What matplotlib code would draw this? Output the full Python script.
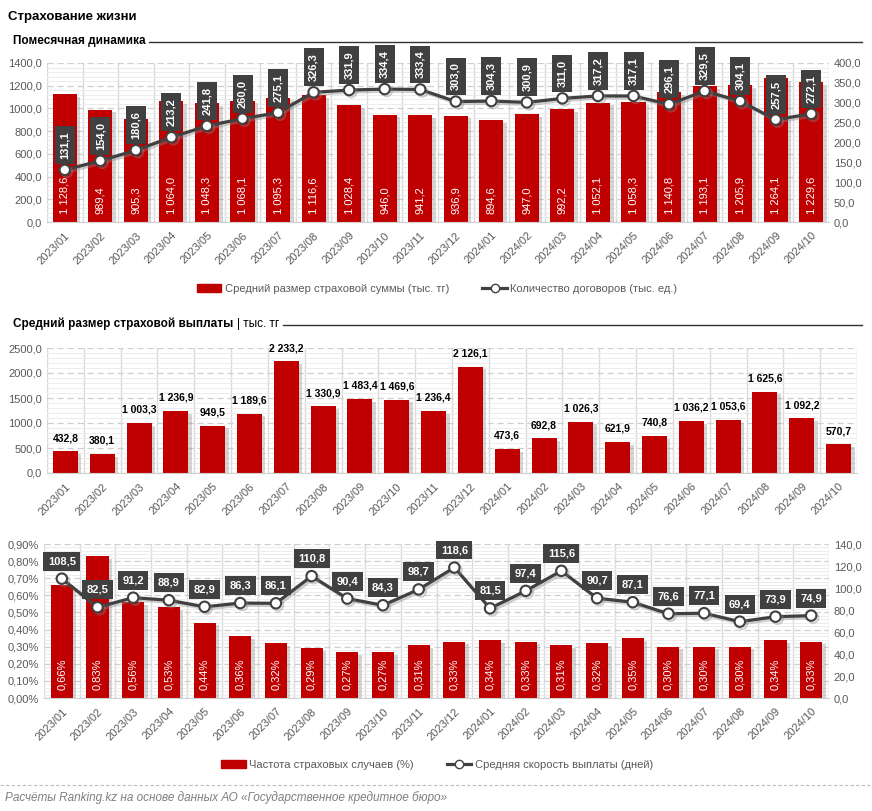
import numpy as np
import matplotlib
matplotlib.use("Agg")
import matplotlib.pyplot as plt
import matplotlib.patheffects as pe
from matplotlib.ticker import MultipleLocator, FuncFormatter
from matplotlib.lines import Line2D
from matplotlib.patches import Patch

months = ["2023/01", "2023/02", "2023/03", "2023/04", "2023/05", "2023/06",
          "2023/07", "2023/08", "2023/09", "2023/10", "2023/11", "2023/12",
          "2024/01", "2024/02", "2024/03", "2024/04", "2024/05", "2024/06",
          "2024/07", "2024/08", "2024/09", "2024/10"]

# average insured sum (thous. tenge) and number of contracts (thous.)
avg_sum = [1128.6, 989.4, 905.3, 1064.0, 1048.3, 1068.1, 1095.3, 1116.6, 1028.4, 946.0, 941.2,
           936.9, 894.6, 947.0, 992.2, 1052.1, 1058.3, 1140.8, 1193.1, 1205.9, 1264.1, 1229.6]
contracts = [131.1, 154.0, 180.6, 213.2, 241.8, 260.0, 275.1, 326.3, 331.9, 334.4, 333.4,
             303.0, 304.3, 300.9, 311.0, 317.2, 317.1, 296.1, 329.5, 304.1, 257.5, 272.1]

# average payout (thous. tenge)
avg_payout = [432.8, 380.1, 1003.3, 1236.9, 949.5, 1189.6, 2233.2, 1330.9, 1483.4, 1469.6, 1236.4,
              2126.1, 473.6, 692.8, 1026.3, 621.9, 740.8, 1036.2, 1053.6, 1625.6, 1092.2, 570.7]

# claim frequency (%) and payout speed (days)
claim_freq = [0.66, 0.83, 0.56, 0.53, 0.44, 0.36, 0.32, 0.29, 0.27, 0.27, 0.31,
              0.33, 0.34, 0.33, 0.31, 0.32, 0.35, 0.30, 0.30, 0.30, 0.34, 0.33]
pay_speed = [108.5, 82.5, 91.2, 88.9, 82.9, 86.3, 86.1, 110.8, 90.4, 84.3, 98.7,
             118.6, 81.5, 97.4, 115.6, 90.7, 87.1, 76.6, 77.1, 69.4, 73.9, 74.9]

RED = "#C00000"
DARK = "#404040"
GRAY = "#595959"

plt.rcParams["font.family"] = ["Liberation Sans", "DejaVu Sans"]


def ru(v, d=1):
    return f"{v:,.{d}f}".replace(",", " ").replace(".", ",")


def comma_fmt(d=1, suffix=""):
    return FuncFormatter(lambda v, p: f"{v:.{d}f}".replace(".", ",") + suffix)


shadow = [pe.SimplePatchShadow(offset=(2.5, -2), shadow_rgbFace="#888888", alpha=0.35), pe.Normal()]
line_shadow = [pe.SimpleLineShadow(offset=(1.5, -1.5), shadow_color="#888888", alpha=0.4), pe.Normal()]

x = np.arange(len(months))


def style(ax, ymax, step, fmt):
    ax.set_xlim(-0.5, len(months) - 0.5)
    ax.set_ylim(0, ymax)
    ax.yaxis.set_major_locator(MultipleLocator(step))
    ax.yaxis.set_minor_locator(MultipleLocator(step / 5))
    ax.yaxis.set_major_formatter(fmt)
    ax.set_xticks(x)
    ax.set_xticks(np.arange(len(months) + 1) - 0.5, minor=True)
    ax.set_xticklabels(months, rotation=45, ha="right", rotation_mode="anchor")
    ax.tick_params(axis="both", which="both", length=0, colors=GRAY, labelsize=8)
    ax.tick_params(axis="x", pad=6)
    ax.grid(axis="y", which="minor", color="#ececec", lw=0.7)
    ax.grid(axis="y", which="major", color="#cfcfcf", ls=(0, (5, 3)), lw=0.9)
    ax.grid(axis="x", which="minor", color="#d9d9d9", lw=1.0)
    ax.set_axisbelow(True)
    for s in ax.spines.values():
        s.set_visible(False)
    ax.spines["bottom"].set_visible(True)
    ax.spines["bottom"].set_color("#d0d0d0")


fig = plt.figure(figsize=(8.72, 8.11), dpi=100)
renderer = fig.canvas.get_renderer()

# titles
fig.text(8 / 872, 1 - 17 / 811, "Страхование жизни", fontsize=9.5, fontweight="bold", va="center")
t1 = fig.text(13 / 872, 1 - 41 / 811, "Помесячная динамика", fontsize=8.5, fontweight="bold",
              va="center")
x_end = t1.get_window_extent(renderer).x1 / fig.bbox.width
fig.add_artist(Line2D([x_end + 3 / 872, 862 / 872], [1 - 42 / 811] * 2, color="#333333", lw=1))

t2 = fig.text(13 / 872, 1 - 324 / 811, "Средний размер страховой выплаты", fontsize=8.5,
              fontweight="bold", va="center")
x_end = t2.get_window_extent(renderer).x1 / fig.bbox.width
t3 = fig.text(x_end + 4 / 872, 1 - 324 / 811, "| тыс. тг", fontsize=8.5, va="center")
x_end = t3.get_window_extent(renderer).x1 / fig.bbox.width
fig.add_artist(Line2D([x_end + 3 / 872, 862 / 872], [1 - 325 / 811] * 2, color="#333333", lw=1))

# ---- top chart
ax1 = fig.add_axes([47 / 872, 1 - 222 / 811, 782 / 872, 159 / 811])
style(ax1, 1400, 200, comma_fmt())
bars = ax1.bar(x, avg_sum, width=0.68, color=RED, zorder=2)
for b in bars:
    b.set_path_effects(shadow)
for xi, v in zip(x, avg_sum):
    ax1.annotate(ru(v), (xi, 0), xytext=(0, 6), textcoords="offset points", rotation=90,
                 ha="center", va="bottom", color="white", fontsize=8)
ax1b = ax1.twinx()
ax1b.set_ylim(0, 400)
ax1b.yaxis.set_major_locator(MultipleLocator(50))
ax1b.yaxis.set_major_formatter(comma_fmt())
ax1b.tick_params(length=0, colors=GRAY, labelsize=8)
for s in ax1b.spines.values():
    s.set_visible(False)
ax1b.plot(x, contracts, color=DARK, lw=2.3, marker="o", ms=7.5, mfc="white", mec=DARK, mew=1.5,
          path_effects=line_shadow)
for xi, v in zip(x, contracts):
    ax1b.annotate(ru(v), (xi, v), xytext=(0, 8), textcoords="offset points", rotation=90,
                  ha="center", va="bottom", color="white", fontsize=8, fontweight="bold",
                  bbox=dict(boxstyle="square,pad=0.45", fc=DARK, ec="none"))
fig.legend(handles=[Patch(color=RED, label="Средний размер страховой суммы (тыс. тг)"),
                    Line2D([], [], color=DARK, lw=2.3, marker="o", ms=6, mfc="white", mec=DARK,
                           label="Количество договоров (тыс. ед.)")],
           loc="center", bbox_to_anchor=(437 / 872, 1 - 289 / 811), ncol=2, frameon=False,
           fontsize=8, columnspacing=3, handlelength=2.2, handletextpad=0.3, labelcolor=GRAY)

# ---- middle chart
ax2 = fig.add_axes([47 / 872, 1 - 473 / 811, 810 / 872, 125 / 811])
style(ax2, 2500, 500, comma_fmt())
bars = ax2.bar(x, avg_payout, width=0.68, color=RED, zorder=2)
for b in bars:
    b.set_path_effects(shadow)
for xi, v in zip(x, avg_payout):
    ax2.annotate(ru(v), (xi, v), xytext=(0, 6), textcoords="offset points",
                 ha="center", va="bottom", color="black", fontsize=7.5, fontweight="bold")

# ---- bottom chart
ax3 = fig.add_axes([44 / 872, 1 - 698 / 811, 785 / 872, 154 / 811])
style(ax3, 0.9, 0.1, comma_fmt(2, "%"))
bars = ax3.bar(x, claim_freq, width=0.62, color=RED, zorder=2)
for b in bars:
    b.set_path_effects(shadow)
for xi, v in zip(x, claim_freq):
    ax3.annotate(ru(v, 2) + "%", (xi, 0), xytext=(0, 6), textcoords="offset points", rotation=90,
                 ha="center", va="bottom", color="white", fontsize=8)
ax3b = ax3.twinx()
ax3b.set_ylim(0, 140)
ax3b.yaxis.set_major_locator(MultipleLocator(20))
ax3b.yaxis.set_major_formatter(comma_fmt())
ax3b.tick_params(length=0, colors=GRAY, labelsize=8)
for s in ax3b.spines.values():
    s.set_visible(False)
ax3b.plot(x, pay_speed, color=DARK, lw=2.3, marker="o", ms=7.5, mfc="white", mec=DARK, mew=1.5,
          path_effects=line_shadow)
for xi, v in zip(x, pay_speed):
    ax3b.annotate(ru(v), (xi, v), xytext=(0, 9), textcoords="offset points",
                  ha="center", va="bottom", color="white", fontsize=8, fontweight="bold",
                  bbox=dict(boxstyle="square,pad=0.4", fc=DARK, ec="none"))
fig.legend(handles=[Patch(color=RED, label="Частота страховых случаев (%)"),
                    Line2D([], [], color=DARK, lw=2.3, marker="o", ms=6, mfc="white", mec=DARK,
                           label="Средняя скорость выплаты (дней)")],
           loc="center", bbox_to_anchor=(437 / 872, 1 - 765 / 811), ncol=2, frameon=False,
           fontsize=8, columnspacing=3, handlelength=2.2, handletextpad=0.3, labelcolor=GRAY)

# footer
fig.add_artist(Line2D([0, 1], [1 - 785 / 811] * 2, color="#bbbbbb", lw=0.8, ls=(0, (3, 2))))
fig.text(5 / 872, 1 - 798 / 811, "Расчёты Ranking.kz на основе данных АО «Государственное кредитное бюро»",
         fontsize=8.5, style="italic", color="#7f7f7f", va="center")

fig.savefig("out.png", dpi=100)
